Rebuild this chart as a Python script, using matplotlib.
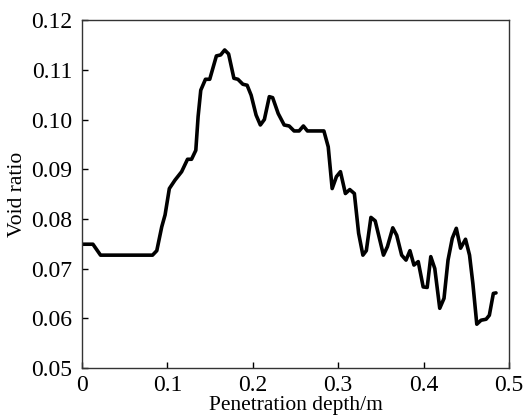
import matplotlib
matplotlib.use("Agg")
import matplotlib.pyplot as plt

depth = [0.0, 0.0128, 0.0217, 0.0826, 0.0876, 0.0934, 0.0973, 0.1023, 0.1089, 0.1167,
         0.1236, 0.1283, 0.1333, 0.136, 0.1391, 0.1446, 0.1496, 0.1574, 0.1624, 0.1671,
         0.1717, 0.1779, 0.1826, 0.1884, 0.1934, 0.1981, 0.2039, 0.2089, 0.2136, 0.2194,
         0.2233, 0.2298, 0.2368, 0.2426, 0.2484, 0.2543, 0.2593, 0.264, 0.2833, 0.2884,
         0.293, 0.298, 0.3027, 0.3085, 0.3136, 0.319, 0.324, 0.329, 0.333, 0.3384,
         0.3434, 0.3531, 0.3577, 0.364, 0.3686, 0.3744, 0.3795, 0.3841, 0.3888, 0.3938,
         0.3996, 0.4043, 0.4085, 0.4132, 0.419, 0.424, 0.4287, 0.4337, 0.4384, 0.4434,
         0.4492, 0.4539, 0.4578, 0.4624, 0.4674, 0.4733, 0.4771, 0.4818, 0.4849]
void_ratio = [0.0749, 0.0749, 0.0727, 0.0727, 0.0736, 0.0784, 0.0808, 0.0861, 0.0878, 0.0895,
              0.092, 0.092, 0.0938, 0.1006, 0.1059, 0.1081, 0.1081, 0.1128, 0.113, 0.114,
              0.1132, 0.1083, 0.1081, 0.1071, 0.1069, 0.1049, 0.1009, 0.0989, 0.1, 0.1046,
              0.1044, 0.1012, 0.0989, 0.0987, 0.0977, 0.0977, 0.0987, 0.0977, 0.0977, 0.0945,
              0.0861, 0.0885, 0.0895, 0.0851, 0.0859, 0.0851, 0.0771, 0.0727, 0.0736, 0.0803,
              0.0796, 0.0727, 0.0744, 0.0782, 0.0767, 0.0727, 0.0717, 0.0736, 0.0707, 0.0714,
              0.0663, 0.0662, 0.0724, 0.07, 0.062, 0.064, 0.0717, 0.0761, 0.0781, 0.0741,
              0.0759, 0.0727, 0.067, 0.0588, 0.0596, 0.0598, 0.0606, 0.065, 0.0651]

x_ticks = [0, 0.1, 0.2, 0.3, 0.4, 0.5]
x_tick_labels = ["0", "0.1", "0.2", "0.3", "0.4", "0.5"]
y_ticks = [0.05, 0.06, 0.07, 0.08, 0.09, 0.10, 0.11, 0.12]
y_tick_labels = ["0.05", "0.06", "0.07", "0.08", "0.09", "0.10", "0.11", "0.12"]

plt.rcParams['font.family'] = ['Liberation Serif', 'DejaVu Serif']

fig = plt.figure(figsize=(5.29, 4.2), dpi=100)
ax = fig.add_axes([0.155, 0.124, 0.807, 0.828])
ax.plot(depth, void_ratio, color='black', linewidth=2.6, solid_joinstyle='round',
        solid_capstyle='round')
ax.set_xlim(0, 0.5)
ax.set_ylim(0.05, 0.12)
ax.set_xticks(x_ticks)
ax.set_xticklabels(x_tick_labels)
ax.set_yticks(y_ticks)
ax.set_yticklabels(y_tick_labels)
ax.tick_params(direction='in', length=4, width=1, labelsize=17, pad=5,
               top=False, right=False)
ax.tick_params(axis='y', pad=7)
for s in ax.spines.values():
    s.set_linewidth(1.0)
    s.set_color('#333333')
ax.set_xlabel("Penetration depth/m", fontsize=15.5, labelpad=0)
ax.set_ylabel("Void ratio", fontsize=15.5, labelpad=3)
fig.savefig("out.png", dpi=100)
